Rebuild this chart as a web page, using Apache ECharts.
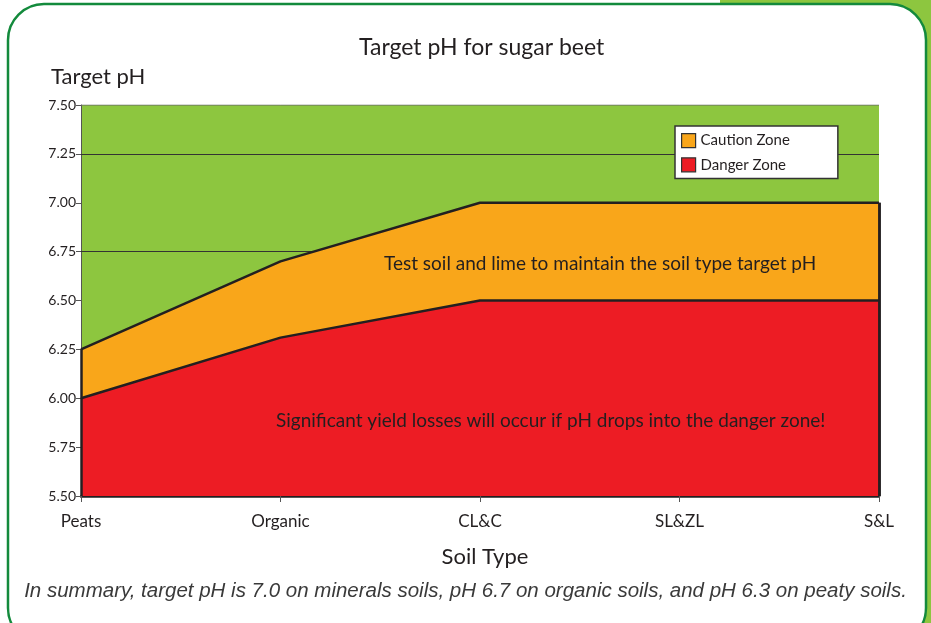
<!DOCTYPE html>
<html>
<head>
<meta charset="UTF-8">
<title>Target pH for sugar beet</title>
<script src="https://cdn.jsdelivr.net/npm/echarts@6/dist/echarts.min.js"></script>
<style>
  * { margin: 0; padding: 0 }
  html, body { width: 100%; height: 100%; background: #fff; }
  #main { width: 931px; height: 623px; }
</style>
</head>
<body>
<div id="main"></div>
<script>
// soil types along the x axis
var soilTypes = ['Peats', 'Organic', 'CL&C', 'SL&ZL', 'S&L'];
// upper edge of each zone (pH)
var cautionTop = [6.25, 6.70, 7.00, 7.00, 7.00];
var dangerTop = [6.00, 6.31, 6.50, 6.50, 6.50];
var safeTop = [7.50, 7.50, 7.50, 7.50, 7.50];
// only these two grid lines show in the original
var gridLines = [7.25, 6.75];

var font = 'Lato';
var edge = '#231f20';

var option = {
  animation: false,
  graphic: [
    // green strip behind the card at the right
    { type: 'rect', z: -10, shape: { x: 720, y: 0, width: 211, height: 623 }, style: { fill: '#8dc63f' } },
    { type: 'rect', z: -9, shape: { x: 8, y: 4, width: 918, height: 640, r: 36 },
      style: { fill: '#fff', stroke: '#138a3c', lineWidth: 2.5 } },
    { type: 'text', z: 10, left: 384, top: 254,
      style: { text: 'Test soil and lime to maintain the soil type target pH', font: '19px ' + font, fill: '#231f20' } },
    { type: 'text', z: 10, left: 276, top: 411,
      style: { text: 'Significant yield losses will occur if pH drops into the danger zone!', font: '19px ' + font, fill: '#231f20' } },
    { type: 'text', z: 10, left: 'center', top: 581,
      style: { text: 'In summary, target pH is 7.0 on minerals soils, pH 6.7 on organic soils, and pH 6.3 on peaty soils.',
        font: 'italic 20.5px "Liberation Sans"', fill: '#3a3a3a' } }
  ],
  title: [
    { text: 'Target pH for sugar beet', left: 354, top: 31,
      textStyle: { fontFamily: font, fontSize: 23, fontWeight: 'normal', color: '#231f20' } },
    { text: 'Target pH', left: 46, top: 61,
      textStyle: { fontFamily: font, fontSize: 22, fontWeight: 'normal', color: '#231f20' } }
  ],
  legend: {
    data: ['Caution Zone', 'Danger Zone'],
    orient: 'vertical',
    left: 675, top: 126,
    padding: [7, 48, 6, 6],
    itemGap: 9,
    itemWidth: 14, itemHeight: 14,
    icon: 'rect',
    backgroundColor: '#fff',
    borderColor: '#333',
    borderWidth: 1.5,
    borderRadius: 0,
    z: 8,
    itemStyle: { borderColor: '#333', borderWidth: 1.2 },
    textStyle: { fontFamily: font, fontSize: 15, color: '#231f20' }
  },
  grid: { left: 81, right: 52, top: 105, bottom: 127 },
  xAxis: {
    type: 'category',
    data: soilTypes,
    boundaryGap: false,
    name: 'Soil Type',
    nameLocation: 'middle',
    nameGap: 50,
    nameTextStyle: { fontFamily: font, fontSize: 22, color: '#231f20', padding: [0, 0, 0, 10] },
    axisLine: { lineStyle: { color: edge, width: 2.5 } },
    axisTick: { lineStyle: { color: '#555', width: 1 }, length: 6 },
    axisLabel: { fontFamily: font, fontSize: 17, color: '#231f20', margin: 17 }
  },
  yAxis: {
    type: 'value',
    min: 5.5, max: 7.5, interval: 0.25,
    splitLine: { show: false },
    axisLine: { show: true, lineStyle: { color: '#555', width: 1 } },
    axisTick: { show: true, length: 5, lineStyle: { color: '#555' } },
    axisLabel: { fontFamily: '"Liberation Sans Narrow", ' + font, fontSize: 14, color: '#231f20', margin: 5,
      formatter: function (v) { return v.toFixed(2); } }
  },
  series: [
    {
      name: 'Safe', type: 'line', data: safeTop, symbol: 'none', silent: true, z: 0,
      lineStyle: { color: '#666', width: 1 },
      areaStyle: { color: '#8dc63f', opacity: 1, origin: 'start' },
      markLine: {
        silent: true, symbol: 'none', label: { show: false }, z: 1,
        lineStyle: { color: '#333', width: 1, type: 'solid' },
        data: gridLines.map(function (v) { return { yAxis: v }; })
      }
    },
    {
      name: 'Caution Zone', type: 'line', data: cautionTop, symbol: 'none', z: 2,
      itemStyle: { color: '#f9a61a' },
      lineStyle: { color: edge, width: 2.5 },
      areaStyle: { color: '#f9a61a', opacity: 1, origin: 'start' },
      markLine: {
        silent: true, symbol: 'none', label: { show: false },
        lineStyle: { color: edge, width: 2.5, type: 'solid' },
        data: [
          [{ coord: [soilTypes[4], 5.5] }, { coord: [soilTypes[4], cautionTop[4]] }]
        ]
      }
    },
    {
      name: 'Danger Zone', type: 'line', data: dangerTop, symbol: 'none', z: 3,
      itemStyle: { color: '#ed1c24' },
      lineStyle: { color: edge, width: 2.5 },
      areaStyle: { color: '#ed1c24', opacity: 1, origin: 'start' },
      markLine: {
        silent: true, symbol: 'none', label: { show: false },
        lineStyle: { color: edge, width: 2.5, type: 'solid' },
        data: [
          [{ coord: [soilTypes[0], 5.5] }, { coord: [soilTypes[0], cautionTop[0]] }],
          [{ coord: [soilTypes[4], 5.5] }, { coord: [soilTypes[4], cautionTop[4]] }]
        ]
      }
    }
  ]
};

var myChart = echarts.init(document.getElementById('main'));
myChart.setOption(option);
</script>
</body>
</html>
